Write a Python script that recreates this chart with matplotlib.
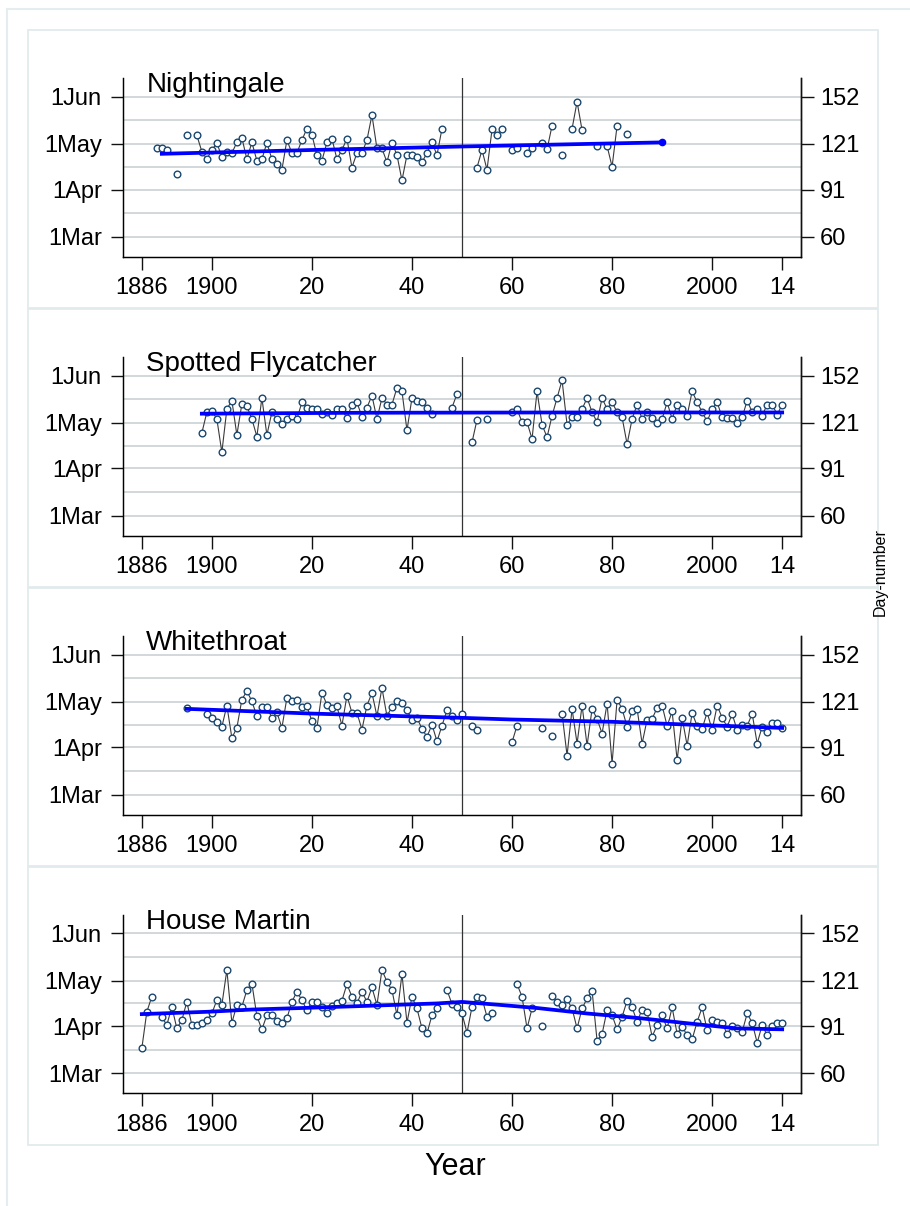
import numpy as np
import matplotlib
matplotlib.use("Agg")
import matplotlib.pyplot as plt
from matplotlib.patches import Rectangle

plt.rcParams['font.family'] = ['Liberation Sans', 'DejaVu Sans']

# ---- data (day-number of first arrival) ----
species = ["Nightingale", "Spotted Flycatcher", "Whitethroat", "House Martin"]

night_years = [1889, 1890, 1891, 1893, 1895, 1897, 1898, 1899, 1900, 1901, 1902, 1903, 1904,
               1905, 1906, 1907, 1908, 1909, 1910, 1911, 1912, 1913, 1914, 1915, 1916, 1917,
               1918, 1919, 1920, 1921, 1922, 1923, 1924, 1925, 1926, 1927, 1928, 1929, 1930,
               1931, 1932, 1933, 1934, 1935, 1936, 1937, 1938, 1939, 1940, 1941, 1942, 1943,
               1944, 1945, 1946, 1953, 1954, 1955, 1956, 1957, 1958, 1960, 1961, 1963, 1964,
               1966, 1967, 1968, 1970, 1972, 1973, 1974, 1977, 1979, 1980, 1981, 1983]
night_days = [118.5, 118.5, 117, 101, 126.6, 126.6, 116, 111, 117, 121.5, 112.6, 116, 115,
              122, 125, 111, 122, 110, 111, 121.8, 111, 108, 104, 123.5, 115, 115,
              123.5, 131, 127, 113.7, 110, 122, 124.5, 111, 117, 124.5, 105.5, 115, 115,
              123.5, 140, 118, 118, 109, 121.8, 113.7, 97, 113.7, 113.7, 112.6, 109, 115,
              122, 113.7, 131, 105.5, 117, 104, 130.5, 127, 131, 117, 118, 115, 118,
              121.8, 117.4, 133, 114, 131, 148.7, 130, 119.6, 119.6, 106, 133, 127.5]
night_trend_years = [1890, 1920, 1950, 1990]
night_trend_days = [114.5, 117.0, 119.3, 122.0]

fly_years = [1898, 1899, 1900, 1901, 1902, 1903, 1904, 1905, 1906, 1907, 1908, 1909, 1910,
             1911, 1912, 1913, 1914, 1915, 1916, 1917, 1918, 1919, 1920, 1921, 1922, 1923,
             1924, 1925, 1926, 1927, 1928, 1929, 1930, 1931, 1932, 1933, 1934, 1935, 1936,
             1937, 1938, 1939, 1940, 1941, 1942, 1943, 1944, 1948, 1949, 1952, 1953, 1955,
             1960, 1961, 1962, 1963, 1964, 1965, 1966, 1967, 1968, 1969, 1970, 1971, 1972,
             1973, 1974, 1975, 1976, 1977, 1978, 1979, 1980, 1981, 1982, 1983, 1984, 1985,
             1986, 1987, 1988, 1989, 1990, 1991, 1992, 1993, 1994, 1995, 1996, 1997, 1998,
             1999, 2000, 2001, 2002, 2003, 2004, 2005, 2006, 2007, 2008, 2009, 2010, 2011,
             2012, 2013, 2014]
fly_days = [114.3, 128, 129, 123.5, 101.6, 130, 135.6, 113, 133.4, 132, 123.5, 112, 137.3,
            113, 128, 123.5, 120, 123.5, 125.7, 123.5, 134.5, 131, 130, 130, 126.8, 128,
            126.4, 130, 130, 124, 133, 134.5, 125, 131, 138.9, 123.5, 137.3, 133, 133,
            144, 141.7, 116, 137.3, 135.6, 134.5, 131, 126.8, 131, 140, 108.2, 123, 123.5,
            128, 130, 121.4, 121.4, 110.4, 141.7, 119.8, 111.5, 125.7, 137.3, 149, 119.8, 124.6,
            124.6, 130, 137.3, 128, 121.4, 137.3, 130, 134.5, 128, 124.6, 107, 123.5, 133,
            123.5, 128, 124, 120.7, 123.5, 134.5, 123.5, 133, 130, 125.7, 141.7, 134.5, 128,
            122, 130, 134.5, 124.6, 124, 124, 120.7, 124.6, 135.6, 128, 130, 125.7, 133,
            133, 126.4, 133]
fly_trend_years = [1898, 1930, 1970, 2014]
fly_trend_days = [127.0, 127.6, 127.8, 127.8]

white_years = [1895, 1899, 1900, 1901, 1902, 1903, 1904, 1905, 1906, 1907, 1908, 1909, 1910,
               1911, 1912, 1913, 1914, 1915, 1916, 1917, 1918, 1919, 1920, 1921, 1922, 1923,
               1924, 1925, 1926, 1927, 1928, 1929, 1930, 1931, 1932, 1933, 1934, 1935, 1936,
               1937, 1938, 1939, 1940, 1941, 1942, 1943, 1944, 1945, 1946, 1947, 1948, 1949,
               1950, 1952, 1953, 1960, 1961, 1966, 1968, 1970, 1971, 1972, 1973, 1974, 1975,
               1976, 1977, 1978, 1979, 1980, 1981, 1982, 1983, 1984, 1985, 1986, 1987, 1988,
               1989, 1990, 1991, 1992, 1993, 1994, 1995, 1996, 1997, 1998, 1999, 2000, 2001,
               2002, 2003, 2004, 2005, 2006, 2007, 2008, 2009, 2010, 2011, 2012, 2013, 2014]
white_days = [117, 112.6, 110, 107.5, 104.5, 118.5, 97.2, 103.8, 122.4, 128, 121.3, 111.5, 117.6,
              117.6, 110.4, 114, 103.8, 123.5, 121.3, 122.4, 117.6, 118, 108.2, 103.8, 126.8, 119.1,
              117, 118, 105.3, 125, 113.7, 113.7, 102.7, 118.5, 126.8, 111.5, 130, 111.5, 117.6,
              121.3, 120.2, 115.4, 108.9, 110.4, 103.2, 97.9, 106, 95, 105.3, 115.4, 111.5, 109.3,
              113.2, 105.3, 102.3, 94.4, 105.3, 103.8, 98.3, 113.2, 85.6, 116.3, 93.5, 118.5, 92.2,
              116.3, 109.7, 100.1, 119.8, 80.4, 122.4, 116.3, 104.5, 114.8, 116.3, 93.5, 109.3, 109.7,
              117, 118.5, 105, 114.6, 82.7, 110.4, 92.2, 113.7, 105, 103.2, 114, 102.3, 118.5,
              110.4, 104.5, 113, 102.3, 105.5, 105, 113.2, 93.5, 104.5, 101, 107.2, 107.2, 104]
white_trend_years = [1895, 1920, 1950, 1960, 1980, 2000, 2014]
white_trend_days = [116.3, 113.2, 110.4, 109.3, 107.8, 105.4, 103.8]

martin_years = [1886, 1887, 1888, 1890, 1891, 1892, 1893, 1894, 1895, 1896, 1897, 1898, 1899,
                1900, 1901, 1902, 1903, 1904, 1905, 1906, 1907, 1908, 1909, 1910, 1911, 1912,
                1913, 1914, 1915, 1916, 1917, 1918, 1919, 1920, 1921, 1922, 1923, 1924, 1925,
                1926, 1927, 1928, 1929, 1930, 1931, 1932, 1933, 1934, 1935, 1936, 1937, 1938,
                1939, 1940, 1941, 1942, 1943, 1944, 1945, 1947, 1948, 1949, 1950, 1951, 1952,
                1953, 1954, 1955, 1956, 1961, 1962, 1963, 1964, 1966, 1968, 1969, 1970, 1971,
                1972, 1973, 1974, 1975, 1976, 1977, 1978, 1979, 1980, 1981, 1982, 1983, 1984,
                1985, 1986, 1987, 1988, 1989, 1990, 1991, 1992, 1993, 1994, 1995, 1996, 1997,
                1998, 1999, 2000, 2001, 2002, 2003, 2004, 2005, 2006, 2007, 2008, 2009, 2010,
                2011, 2012, 2013, 2014]
martin_days = [76.4, 100.5, 110.4, 97.2, 91.8, 103.8, 89.6, 95, 107.1, 91.8, 91.8, 92.9, 95,
               99.4, 108.2, 105, 128, 93.3, 105, 103.8, 114.8, 119.1, 97.7, 88.9, 98.3, 98.3,
               94.6, 92.9, 96.2, 107.1, 113.7, 108.2, 101.6, 107.1, 107.1, 103.8, 99.4, 104.3, 106,
               107.8, 118.7, 110.4, 106, 113.7, 107.1, 116.5, 105, 128, 120.3, 114.8, 98.3, 125.3,
               93.3, 110.4, 102.7, 89.6, 86.3, 98.3, 102.7, 114.8, 105.6, 103.8, 99.4, 86.7, 103.8,
               110.4, 109.3, 97.2, 99.9, 118.7, 110.4, 89.6, 102.7, 91.1, 110.8, 107.1, 105, 108.6,
               102.7, 89.6, 102.7, 109.3, 114.3, 81.5, 85.9, 101.6, 98.3, 88.9, 97.2, 107.8, 103.4,
               94, 102, 100.5, 84.1, 91.8, 98.3, 89.6, 103.4, 86, 90.7, 85.2, 82.4, 94,
               103.4, 88.5, 95, 94, 93.3, 85.9, 91.1, 89.6, 87.4, 99.4, 93.3, 80.2, 91.8,
               85.2, 91.1, 93.3, 93.3]
martin_trend_years = [1886, 1899, 1908, 1918, 1930, 1945, 1950, 1957, 1965, 1975, 1985, 1995, 2005, 2014]
martin_trend_days = [99, 100.5, 102, 103, 104.3, 106, 107, 105.2, 103, 99.4, 96.5, 93, 89.6, 89]

panels = [
    (night_years, night_days, night_trend_years, night_trend_days),
    (fly_years, fly_days, fly_trend_years, fly_trend_days),
    (white_years, white_days, white_trend_years, white_trend_days),
    (martin_years, martin_days, martin_trend_years, martin_trend_days),
]

xticks = [1886, 1900, 1920, 1940, 1960, 1980, 2000, 2014]
xticklabels = ["1886", "1900", "20", "40", "60", "80", "2000", "14"]
yticks = [60, 91, 121, 152]
ylabels_left = ["1Mar", "1Apr", "1May", "1Jun"]
ylabels_right = ["60", "91", "121", "152"]
ygrid = [60, 75.5, 91, 106, 121, 136.5, 152]


def with_gaps(years, vals):
    # break the connecting line where a year is missing
    xs, ys = [], []
    for k, (yr, v) in enumerate(zip(years, vals)):
        if k and yr - years[k - 1] > 1:
            xs.append(np.nan)
            ys.append(np.nan)
        xs.append(yr)
        ys.append(v)
    return xs, ys


W, H = 910, 1206
fig = plt.figure(figsize=(W / 100, H / 100), dpi=100)

# outer frame (only top / left edge fall inside the picture)
fig.patches.append(Rectangle((7 / W, 1 - 1300 / H), 1000 / W, (1300 - 9) / H,
                             transform=fig.transFigure, fill=False,
                             ec='#e6edf0', lw=1.5, zorder=0))

step = 278.9
for i, (yrs, vals, tyrs, tvals) in enumerate(panels):
    off = i * step
    # panel frame
    fig.patches.append(Rectangle((28 / W, 1 - (308 + off) / H), 850 / W, 278 / H,
                                 transform=fig.transFigure, fill=False,
                                 ec='#e3eaed', lw=1.3, zorder=0))
    x0, x1, y0, y1 = 123.3, 800.7, 78 + off, 256.7 + off
    ax = fig.add_axes([x0 / W, 1 - y1 / H, (x1 - x0) / W, (y1 - y0) / H])
    ax.patch.set_alpha(0)
    ax.set_xlim(1882.3, 2017.7)
    ax.set_ylim(46.9, 164.3)

    for g in ygrid:
        ax.axhline(g, color='#cfd5d8', lw=1.3, zorder=1)
    ax.axvline(1950, color='#333333', lw=0.9, zorder=2)

    xs, ys = with_gaps(yrs, vals)
    ax.plot(xs, ys, color='#3a3a3a', lw=0.8, zorder=3)
    ax.plot(yrs, vals, ls='none', marker='o', ms=4.8, mew=1.0,
            mec='#1a476f', mfc='white', zorder=4)
    ax.plot(tyrs, tvals, color='#0000ff', lw=2.7, zorder=5)
    if i == 0:
        ax.plot(tyrs[-1], tvals[-1], marker='o', ms=4.5, color='#0000ff', zorder=5)

    ax.spines['top'].set_visible(False)
    for s in ['left', 'right', 'bottom']:
        ax.spines[s].set_linewidth(1.0)
        ax.spines[s].set_color('#111111')

    ax.set_xticks(xticks)
    ax.set_xticklabels(xticklabels, fontsize=17)
    ax.set_yticks(yticks)
    ax.set_yticklabels(ylabels_left, fontsize=17)
    ax.tick_params(axis='x', length=9, width=1.0, pad=5.5, color='#111111')
    ax.tick_params(axis='y', length=9, width=1.0, pad=6.5, color='#111111')

    axr = ax.twinx()
    axr.set_ylim(ax.get_ylim())
    axr.set_yticks(yticks)
    axr.set_yticklabels(ylabels_right, fontsize=17)
    axr.tick_params(axis='y', length=9, width=1.0, pad=5, color='#111111')
    axr.spines['top'].set_visible(False)
    axr.spines['right'].set_linewidth(1.0)
    axr.spines['right'].set_color('#111111')

    ax.text(0.034, 0.92, species[i], transform=ax.transAxes, fontsize=20,
            ha='left', va='baseline', zorder=6)

fig.text(880 / W, 1 - 572 / H, 'Day-number', rotation=90, ha='center',
         va='center', fontsize=11.5)
fig.text(455 / W, 1 - 1167 / H, 'Year', ha='center', va='center', fontsize=22)

fig.savefig('out.png', dpi=100)
